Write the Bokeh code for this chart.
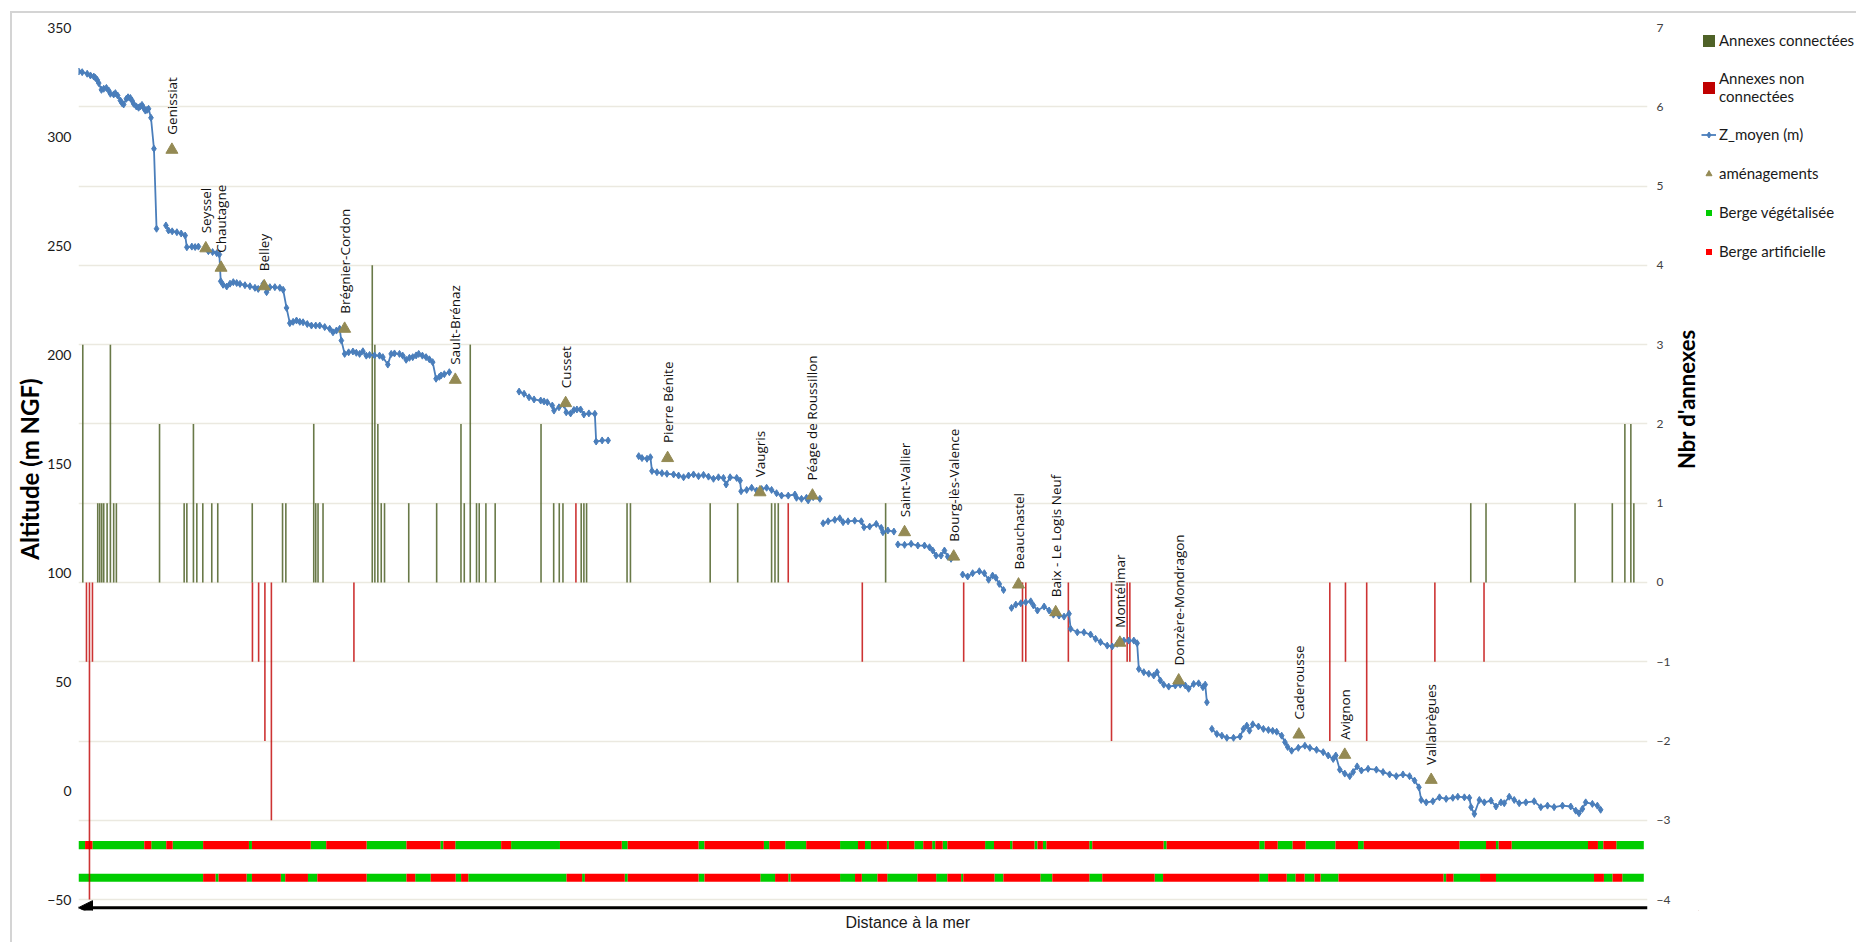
import math
from bokeh.plotting import figure
from bokeh.layouts import row
from bokeh.models import (ColumnDataSource, Range1d, LinearAxis, SingleIntervalTicker, Grid,
                          Legend, LegendItem, Arrow, NormalHead, Title)
from bokeh.core.properties import value
from bokeh.embed import file_html
from bokeh.resources import INLINE

# ---------------------------------------------------------------------------
# Profil en long du Rhône : position le long du fleuve (amont -> aval)
# et altitude moyenne du fond, bief par bief
# ---------------------------------------------------------------------------
bief_pk = [
    [78.3, 81.7, 86.7, 90, 93.3, 95, 96.7, 98.3, 101, 103.3, 106, 108.3, 110, 113.3, 115, 117.3,
     120, 121.7, 123.3, 126, 127.7, 130, 131.7, 133.3, 136, 138.3, 140, 141.7, 143.3, 145, 146.7,
     148.3, 150.7, 153.7, 156.3],
    [165.7, 168.3, 172, 176.7, 181, 185, 186.7, 191.7, 195, 198.3],
    [208.3, 212.5, 216.7, 219.3, 220.7, 223, 226.7, 230, 233.3, 236.7, 240, 245, 250, 255, 258.3,
     263.3, 266.7, 270, 275, 280, 283.3, 286.7, 290, 293.3, 296.7, 300, 303.3, 307.5, 311.7, 316,
     320, 325, 330, 333.3, 336.7, 340, 341.7, 345, 349, 353.3, 356.7, 360, 363.3, 366.7, 370, 375,
     380, 383.3, 388.3, 391.7, 395, 400, 403.3, 406.7, 410, 413.3, 416.7, 419.3, 423, 426.7, 430,
     433.3, 436.7, 440, 441.7, 445, 450],
    [520, 525, 530, 535, 541.7, 545, 548.3, 553.3, 555, 560, 565, 567.3, 571.7, 575, 578, 581.7,
     585, 590, 596, 597.3, 603.3, 609.3],
    [640, 643.3, 648.3, 651.7, 653.3, 658.3, 663.3, 668.3, 675, 680, 685, 690, 695, 700, 705, 710,
     715, 720, 725, 727.7, 731.7, 738.3, 741.7, 742.7, 748.3, 753.3, 758.3, 763.3, 768.3, 773.3,
     778.3, 783.3, 790, 796.7, 798.3, 803.3, 808.3, 810, 815, 821.7],
    [825, 830, 836.7, 841.7, 845, 850, 856.7, 863.3, 866, 871.7, 878.3, 883.3, 885, 890, 896],
    [900, 906.7, 913.3, 920, 926.7, 931.7, 935, 938.3, 943.3, 946.7, 950, 953.3],
    [965, 970, 975, 981.7, 986.7, 991, 995, 998.3, 1001.7, 1006],
    [1014, 1018.3, 1023.3, 1028.3, 1033.3, 1036, 1040, 1046.7, 1051.7, 1056, 1061.7, 1066.7,
     1071.7, 1073.3, 1080, 1086.7, 1093.3, 1098.3, 1103.3, 1110, 1115, 1120, 1126.7, 1131.7,
     1136.7, 1140, 1141.7, 1146.7, 1151.7, 1156.7, 1160, 1163.3, 1166.7, 1171.7, 1178.3, 1183.3,
     1188.3, 1191.7, 1196.7, 1201.7, 1206, 1208.3, 1210],
    [1215, 1220, 1225, 1230, 1236.7, 1243.3, 1246.7, 1250, 1252.7, 1256, 1261.7, 1266.7, 1271.7,
     1276, 1280, 1285, 1288.3, 1291, 1295, 1301.7, 1308.3, 1313.3, 1320, 1326.7, 1331.7, 1336.7,
     1339.3, 1343.3, 1348.3, 1353.3, 1356.7, 1360.7, 1365, 1371.7, 1380, 1386.7, 1393.3, 1400,
     1406.7, 1413.3, 1418.3, 1422.7, 1425, 1430, 1436.7, 1443.3, 1450, 1456.7, 1461.7, 1468.3,
     1473.3, 1475, 1478.3, 1483.3, 1488.3, 1495, 1500, 1505, 1508.3, 1513.3, 1518.3, 1523.3,
     1530, 1538.3, 1545, 1551.7, 1558.3, 1566.7, 1575, 1580, 1583.3, 1586.7, 1590, 1596.7,
     1601.7, 1605],
]
bief_z = [
    [329.8, 329.5, 328.8, 328, 327.5, 326.9, 326, 324.5, 321.4, 321.9, 322.3, 321.1, 319.6, 319.3,
     319.9, 318.8, 316.5, 315.3, 314.7, 317.3, 318, 317.7, 316.5, 315, 313.8, 313.2, 313.8, 314.5,
     313.2, 311.9, 312.2, 312.7, 308.6, 294.4, 257.7],
    [259.2, 256.9, 256.5, 256.1, 255.5, 254.6, 249.2, 249.5, 249.3, 249.5],
    [247.4, 247, 246.5, 245.9, 233.6, 232, 231.2, 232.5, 233.2, 232.8, 232.4, 231.8, 231.3, 230.6,
     230.1, 232.4, 228.6, 230.9, 230.9, 230.6, 229.7, 221.4, 214.4, 215, 215.6, 215, 214.8, 214,
     213.3, 213.3, 213.3, 212.6, 211.8, 210.2, 211, 211.8, 206.4, 200.3, 201, 201.4, 200.8, 200.3,
     201.5, 199.5, 199.8, 199.6, 199.5, 198.8, 195.4, 200.3, 200.5, 200.3, 199.5, 197.6, 198.5,
     198.8, 199.6, 200.3, 199.5, 198.8, 197.8, 196.5, 188.9, 189.8, 190.4, 191, 191.9],
    [183, 182, 180.4, 179.4, 178.9, 178.5, 178.1, 176.6, 174.3, 175.8, 177, 173.5, 173, 174.6,
     174.8, 174.8, 172.5, 173, 172.8, 160.1, 160.6, 160.6],
    [153.4, 152.5, 152.2, 152.9, 146.6, 146, 145.6, 145.3, 145, 144.5, 143.7, 144.5, 145, 144.2,
     144.8, 144, 143, 143.7, 143.4, 140.4, 143.7, 143.4, 142.2, 137.3, 137.9, 138.9, 137.6, 138.3,
     138.9, 137.9, 136.4, 135.3, 135.3, 135.8, 134.3, 133.8, 134.3, 133.1, 134.6, 133.8],
    [122.6, 123.5, 124.2, 124.9, 123.1, 123.5, 123.8, 123.5, 120.8, 121.1, 122.3, 120.5, 118.5,
     119.3, 118.8],
    [112.9, 112.7, 113.2, 112.4, 112.4, 111.6, 110.1, 107.8, 107.8, 110.1, 107.3, 106.3],
    [99.1, 98.2, 99.7, 100.6, 99.7, 96.7, 98.6, 97.6, 94.8, 92],
    [83.8, 85.3, 85.9, 86.4, 86.8, 84.9, 82.6, 84.4, 82.6, 80.7, 80.3, 79.8, 81.1, 74.2, 72.6,
     72.6, 71.6, 69.6, 68.1, 66.5, 66.1, 67.3, 68.8, 68.8, 68.8, 67.6, 55.8, 54.3, 53.6, 52.8,
     54.3, 50.5, 48.6, 47.7, 48.2, 48.6, 48.2, 46.7, 48.9, 49.2, 47.4, 48.6, 40.5],
    [28.3, 26, 25.2, 24.2, 24.2, 24.8, 28.3, 29.8, 27.5, 30.4, 29.4, 28.3, 27.8, 27.4, 27, 25.2,
     22.2, 20, 18.3, 19.6, 20.6, 19.6, 18.7, 17.6, 16.1, 14.5, 16.1, 9.6, 7.8, 6.6, 8.5, 11.1,
     9.2, 10, 9.6, 8.5, 7.4, 6.6, 7.4, 6.6, 4.6, 1.5, -4.3, -5.4, -4.9, -3.1, -3.8, -3.3, -2.8,
     -3.1, -3.3, -7.6, -10.7, -4.3, -5.4, -4.6, -7.3, -5.4, -5.8, -2.8, -4.3, -5.8, -5.4, -4.9,
     -7.6, -6.9, -7.6, -6.9, -7.3, -9.2, -10.4, -8.4, -5.4, -6.1, -6.9, -8.8],
]

# Aménagements hydroélectriques
amenag_nom = ["Genissiat", "Seyssel", "Chautagne", "Belley", "Brégnier-Cordon", "Sault-Brénaz",
              "Cusset", "Pierre Bénite", "Vaugris", "Péage de Roussillon", "Saint-Vallier",
              "Bourg-lès-Valence", "Beauchastel", "Baix - Le Logis Neuf", "Montélimar",
              "Donzère-Mondragon", "Caderousse", "Avignon", "Vallabrègues"]
amenag_pk = [171.7, 205.7, 221, 264.3, 345, 456, 566.7, 669, 761.7, 814.3, 906.7, 956, 1021,
             1058.3, 1122.7, 1181.7, 1302.3, 1348.3, 1435]
amenag_z = [293.9, 248.7, 239.8, 231.3, 211.8, 188.4, 177.7, 152.5, 136.8, 135.3, 118.5, 107.3,
            94.5, 81.8, 67.8, 50.5, 25.7, 16.4, 4.9]

# Annexes hydrauliques (nombre par tronçon)
annexe_conn_pk = [82.3, 97.3, 99.3, 101.3, 103.3, 106.7, 110, 113.3, 116, 159.3, 184, 186.7,
                  193.3, 196.7, 202.7, 211.7, 217.7, 252.3, 282.7, 286, 314, 316, 318.3, 323.3,
                  372.7, 375.3, 378.3, 381.7, 385, 409.3, 437.3, 461.7, 465, 471, 477.3, 480,
                  486.7, 496, 542, 554.7, 560.3, 564, 582.3, 585, 587.7, 628.3, 631.7, 711.7,
                  739.3, 773.3, 776.7, 780, 887.7, 1474.7, 1490, 1579.3, 1616.7, 1629.3, 1635.3,
                  1638.3]
annexe_conn_nb = [3, 1, 1, 1, 1, 1, 3, 1, 1, 2, 1, 1,
                  2, 1, 1, 1, 1, 1, 1, 1, 2, 1, 1, 1,
                  4, 3, 2, 1, 1, 1, 1, 2, 1, 3, 1, 1,
                  1, 1, 2, 1, 1, 1, 1, 1, 1, 1, 1, 1,
                  1, 1, 1, 1, 1, 1, 1, 1, 1, 2, 2,
                  1]
annexe_nc_pk = [86, 89, 92, 252.5, 258.7, 265, 271.5, 354.3, 577, 790, 864.3, 966, 1025, 1028.3,
                1071, 1114.3, 1130, 1132.7, 1333.3, 1349, 1370.3, 1438.7, 1488]
annexe_nc_nb = [-1, -4, -1, -1, -1, -2, -3, -1, 1, 1, -1, -1, -1, -1,
                -1, -2, -1, -1, -2, -1, -2, -1, -1]

# Nature des berges : limites des tronçons (alternance végétalisée / artificielle,
# en commençant par une berge végétalisée)
berge_debut, berge_fin = 76.5, 1648.3
berge_1_limites = [84.6, 92, 144, 151, 166, 172.5, 203, 249, 252, 311, 326.5, 367, 407, 441, 444,
                   456, 502, 512, 561, 623, 629, 700, 706, 765.6, 771, 787, 808, 842, 860, 867,
                   873, 889, 891, 916.5, 925.4, 934.4, 937.5, 945, 949.6, 987.5, 996.4, 1012.5,
                   1015, 1037, 1040, 1045.5, 1049, 1092, 1095, 1166.5, 1169.6, 1262.5, 1268, 1281,
                   1296, 1309, 1339, 1361.6, 1367.4, 1463.3, 1490, 1500, 1502.7, 1515.7, 1592.3,
                   1602.3, 1607.7, 1620.7]
berge_2_limites = [203, 215.4, 218.5, 246.6, 252, 281, 285.4, 308.2, 317.6, 367, 407, 415.8,
                   431.4, 456.4, 461.8, 469, 567.6, 583.2, 586, 626, 629, 700, 706, 762, 776.8,
                   790, 792.4, 842, 857, 863.8, 879.5, 889.3, 919.6, 938.4, 949.6, 963.4, 965.6,
                   996.9, 1005.8, 1042.9, 1054.9, 1092, 1105, 1157.6, 1166, 1262.5, 1271.4, 1290,
                   1299, 1308, 1317.9, 1324, 1342, 1447.3, 1450, 1457.3, 1484, 1500, 1598.3,
                   1608.3, 1617, 1626.7]
berge_niveaux = [-25, -40]   # cote d'affichage des deux bandes (m NGF)

# Styles des séries
C_CONN, C_NC = "#4f6228", "#c00000"
C_Z, C_AMENAG = "#4a7ebb", "#948a54"
C_VEG, C_ART = "#00cc00", "#ff0000"

# ---------------------------------------------------------------------------
NAN = float("nan")
prof_x, prof_z = [], []
for xs, zs in zip(bief_pk, bief_z):
    if prof_x:
        prof_x.append(NAN)
        prof_z.append(NAN)
    prof_x.extend(xs)
    prof_z.extend(zs)

veg = {"y": [], "left": [], "right": []}
art = {"y": [], "left": [], "right": []}
for niveau, limites in zip(berge_niveaux, [berge_1_limites, berge_2_limites]):
    bornes = [berge_debut] + limites + [berge_fin]
    for k in range(len(bornes) - 1):
        cible = veg if k % 2 == 0 else art
        cible["y"].append(niveau)
        cible["left"].append(bornes[k])
        cible["right"].append(bornes[k + 1])

X0, X1 = 78, 1652
Y0, Y1 = -55, 350
NB0, NB1 = -4 - 5 * 11 / 400, 7
GRIS_CADRE = "2px solid #d4d4d4"

p = figure(width=1704, height=931, x_range=Range1d(X0, X1), y_range=Range1d(Y0, Y1),
           x_axis_type=None, output_backend="svg", toolbar_location=None,
           min_border_left=66, min_border_right=64, min_border_top=14,
           min_border_bottom=34,
           styles={"margin-left": "10px", "margin-top": "11px",
                   "border-left": GRIS_CADRE, "border-top": GRIS_CADRE})
p.outline_line_color = None
p.background_fill_color = "white"
p.border_fill_color = "white"
p.ygrid.visible = False

# Axe gauche : altitude
yl = p.yaxis[0]
yl.ticker = SingleIntervalTicker(interval=50)
yl.axis_line_color = None
yl.major_tick_line_color = None
yl.minor_tick_line_color = None
yl.major_tick_out = 0
yl.major_tick_in = 0
yl.minor_tick_out = 0
yl.major_label_text_font = "Lato"
yl.major_label_text_font_size = "14px"
yl.major_label_text_color = "#1a1a1a"
yl.major_label_standoff = 7
yl.axis_label = "Altitude (m NGF)"
yl.axis_label_text_font = "Lato"
yl.axis_label_text_font_style = "bold"
yl.axis_label_text_font_size = "24px"
yl.axis_label_text_color = "black"
yl.axis_label_standoff = 0

# Axe droit : nombre d'annexes
p.extra_y_ranges = {"nb": Range1d(NB0, NB1)}
yr = LinearAxis(y_range_name="nb", ticker=SingleIntervalTicker(interval=1))
yr.axis_line_color = None
yr.major_tick_line_color = None
yr.minor_tick_line_color = None
yr.major_tick_out = 0
yr.major_tick_in = 0
yr.minor_tick_out = 0
yr.major_label_text_font = "Lato"
yr.major_label_text_font_size = "12px"
yr.major_label_text_color = "#404040"
yr.major_label_standoff = 9
yr.axis_label = "Nbr d'annexes"
yr.axis_label_text_font = "Lato"
yr.axis_label_text_font_style = "bold"
yr.axis_label_text_font_size = "22px"
yr.axis_label_text_color = "black"
yr.axis_label_standoff = 13
yr.axis_label_orientation = math.pi / 2
p.add_layout(yr, "right")

grid = Grid(dimension=1, ticker=yr.ticker, y_range_name="nb",
            grid_line_color="#ebe9e0", grid_line_width=1.5)
p.add_layout(grid)

# Bandes de nature des berges
p.hbar(y="y", left="left", right="right", height=3.7, source=ColumnDataSource(veg),
       fill_color=C_VEG, line_color=None)
p.hbar(y="y", left="left", right="right", height=3.7, source=ColumnDataSource(art),
       fill_color=C_ART, line_color=None)

# Annexes
p.vbar(x=annexe_conn_pk, top=annexe_conn_nb, bottom=0, width=1.6, y_range_name="nb",
       fill_color=C_CONN, fill_alpha=0.85, line_color=None)
p.vbar(x=annexe_nc_pk, top=annexe_nc_nb, bottom=0, width=1.6, y_range_name="nb",
       fill_color=C_NC, fill_alpha=0.8, line_color=None)

# Profil Z_moyen
p.line(prof_x, prof_z, line_color=C_Z, line_width=1.8)
pts_x = [x for x in prof_x if x == x]
pts_z = [z for z in prof_z if z == z]
p.scatter(pts_x, pts_z, marker="diamond", size=7, fill_color=C_Z, line_color=C_Z)

# Aménagements
p.scatter(amenag_pk, amenag_z, marker="triangle", size=12, fill_color=C_AMENAG,
          line_color=C_AMENAG)
p.text(x=amenag_pk, y=amenag_z, text=amenag_nom, angle=math.pi / 2, y_offset=-15,
       text_align="left", text_baseline="middle", text_font=value("Open Sans"),
       text_font_size="13.5px", text_color="#111111")

# Flèche "Distance à la mer"
p.add_layout(Arrow(end=NormalHead(size=14, fill_color="black", line_color="black"),
                   x_start=X1, y_start=-53.7, x_end=X0, y_end=-53.7,
                   line_width=3, line_color="black"))
p.add_layout(Title(text="Distance à la mer", align="left", offset=767, standoff=2,
                   text_font="Liberation Sans", text_font_size="16px",
                   text_font_style="normal", text_color="#1a1a1a"), "below")

# ---------------------------------------------------------------------------
# Légende (panneau à droite du graphique)
# ---------------------------------------------------------------------------
lg = figure(width=158, height=931, x_range=Range1d(0, 1), y_range=Range1d(0, 1),
            x_axis_type=None, y_axis_type=None, output_backend="svg",
            toolbar_location=None, min_border=0,
            styles={"margin-left": "-16px", "margin-top": "11px", "border-top": GRIS_CADRE})
lg.outline_line_color = None
lg.background_fill_alpha = 0
lg.border_fill_alpha = 0
lg.xgrid.visible = False
lg.ygrid.visible = False

# symboles de légende (données placées hors de la zone visible du panneau)
HX, HY = [-50], [-50]
l_conn = lg.vbar(x=HX, top=[-49], bottom=-50, width=0.1, fill_color=C_CONN, line_color=None)
l_nc = lg.vbar(x=HX, top=[-49], bottom=-50, width=0.1, fill_color=C_NC, line_color=None)
l_zl = lg.line(x=[-51, -50], y=[-50, -50], line_color=C_Z, line_width=1.8)
l_zp = lg.scatter(x=HX, y=HY, marker="diamond", size=7, fill_color=C_Z, line_color=C_Z)
l_am = lg.scatter(x=HX, y=HY, marker="triangle", size=11, fill_color=C_AMENAG,
                  line_color=C_AMENAG)
l_veg = lg.scatter(x=HX, y=HY, marker="square", size=8, fill_color=C_VEG, line_color=None)
l_art = lg.scatter(x=HX, y=HY, marker="square", size=8, fill_color=C_ART, line_color=None)

legend = Legend(items=[
    LegendItem(label="Annexes connectées", renderers=[l_conn]),
    LegendItem(label="Annexes non\nconnectées", renderers=[l_nc]),
    LegendItem(label="Z_moyen (m)", renderers=[l_zl, l_zp]),
    LegendItem(label="aménagements", renderers=[l_am]),
    LegendItem(label="Berge végétalisée", renderers=[l_veg]),
    LegendItem(label="Berge artificielle", renderers=[l_art]),
], location="top_left")
legend.border_line_color = None
legend.background_fill_alpha = 0
legend.padding = 0
legend.margin = 3
legend.spacing = 19
legend.glyph_width = 15
legend.glyph_height = 15
legend.label_height = 20
legend.label_standoff = 3
legend.label_text_font = "Lato"
legend.label_text_font_size = "15px"
legend.label_text_color = "#1a1a1a"
lg.add_layout(legend)

open("out.html", "w").write(file_html(row(p, lg), INLINE))
